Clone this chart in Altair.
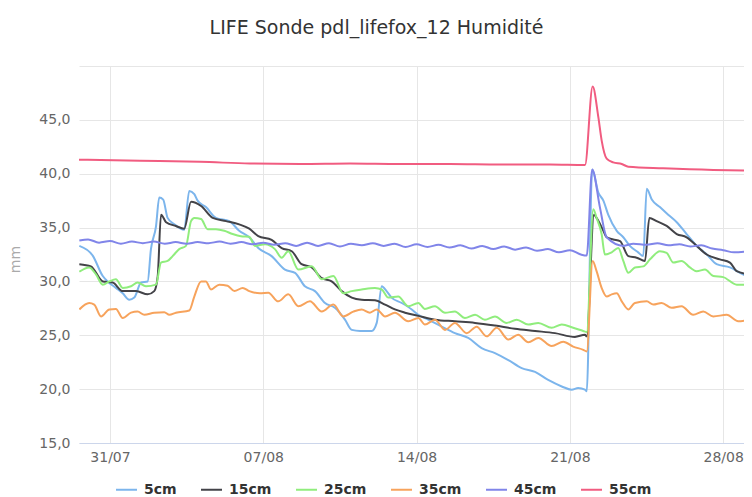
import altair as alt
import pandas as pd

# Series names and Highcharts-style colours
series_names = ["5cm", "15cm", "25cm", "35cm", "45cm", "55cm"]
series_colors = ["#7cb5ec", "#434348", "#90ed7d", "#f7a35c", "#8085e9", "#f15c80"]

# (days since 31/07 00:00, value in mm)
s5 = [(-1.40, 33.3), (-0.79, 32.4), (-0.33, 30.5), (-0.11, 30.0), (0.27, 29.4), (0.58, 28.9), (0.88, 28.3),
      (1.11, 28.5), (1.42, 29.9), (1.72, 30.0), (1.87, 33.0), (2.10, 35.1), (2.25, 37.8), (2.43, 37.6),
      (2.63, 35.9), (2.94, 35.3), (3.39, 34.8), (3.62, 38.4), (3.85, 38.1), (4.00, 37.5), (4.38, 36.9),
      (4.84, 35.9), (5.45, 35.6), (5.90, 34.7), (6.36, 34.1), (6.77, 33.1), (7.38, 32.35), (7.99, 31.1),
      (8.45, 30.8), (8.90, 29.55), (9.36, 29.1), (9.82, 28.0), (10.27, 27.55), (10.73, 26.45), (11.04, 25.5),
      (11.42, 25.4), (11.95, 25.4), (12.18, 26.15), (12.41, 29.55), (12.63, 29.1), (12.86, 28.5), (13.32, 28.0),
      (13.78, 27.4), (14.08, 26.9), (14.53, 26.45), (15.15, 25.8), (15.75, 25.2), (16.36, 24.75), (16.97, 23.8),
      (17.58, 23.35), (18.19, 22.7), (18.80, 21.95), (19.41, 21.6), (20.01, 20.85), (20.63, 20.25),
      (21.08, 19.95), (21.38, 20.1), (21.69, 19.95), (21.77, 19.8), (22.02, 40.4), (22.30, 38.25),
      (22.53, 37.5), (22.75, 36.2), (23.14, 34.7), (23.44, 34.1), (23.74, 33.3), (24.12, 32.7), (24.35, 32.35),
      (24.51, 38.6), (24.74, 37.6), (25.11, 36.9), (25.49, 36.2), (25.88, 35.5), (26.33, 34.4), (26.79, 33.3),
      (27.25, 32.5), (27.70, 31.6), (28.31, 31.3), (28.77, 30.8), (29.22, 30.3)]

s15 = [(-1.40, 31.6), (-0.87, 31.4), (-0.33, 30.0), (0.12, 29.9), (0.58, 29.1), (1.19, 29.1), (1.72, 28.8),
       (2.02, 29.1), (2.18, 30.5), (2.33, 36.2), (2.56, 35.5), (3.01, 35.15), (3.39, 34.9), (3.70, 37.4),
       (4.16, 37.0), (4.69, 35.9), (5.30, 35.6), (5.90, 35.3), (6.36, 34.9), (6.77, 34.2), (7.38, 33.85),
       (7.84, 33.1), (8.30, 32.8), (8.75, 31.6), (9.21, 31.3), (9.67, 30.3), (10.12, 30.0), (10.58, 29.1),
       (11.04, 28.5), (11.49, 28.3), (12.10, 28.25), (12.56, 27.85), (13.01, 27.4), (13.47, 27.1), (14.08, 26.8),
       (14.84, 26.45), (15.75, 26.3), (16.67, 26.15), (17.58, 25.9), (18.49, 25.6), (19.41, 25.4), (20.32, 25.2),
       (21.23, 24.85), (21.69, 25.05), (21.77, 24.9), (22.10, 36.2), (22.22, 35.9), (22.53, 34.7), (22.68, 34.1),
       (22.98, 33.9), (23.29, 33.75), (23.67, 32.35), (24.05, 32.2), (24.43, 31.9), (24.63, 35.9), (24.96, 35.6),
       (25.42, 35.15), (25.88, 34.4), (26.33, 34.1), (26.79, 33.3), (27.25, 32.5), (27.85, 32.05), (28.31, 31.75),
       (28.62, 30.95), (29.22, 30.65)]

s25 = [(-1.40, 30.9), (-0.95, 31.3), (-0.64, 30.65), (-0.33, 29.7), (-0.03, 30.0), (0.27, 30.2), (0.58, 29.4),
       (0.96, 29.55), (1.26, 29.9), (1.64, 29.55), (2.10, 29.7), (2.33, 31.75), (2.63, 31.9), (2.86, 32.35),
       (3.16, 33.0), (3.47, 33.3), (3.70, 35.6), (3.85, 35.9), (4.16, 35.8), (4.46, 34.85), (4.84, 34.85),
       (5.22, 34.7), (5.60, 34.4), (5.98, 34.2), (6.36, 34.15), (6.62, 33.3), (7.08, 33.45), (7.53, 33.0),
       (7.84, 32.2), (8.14, 32.8), (8.60, 31.1), (9.21, 31.4), (9.67, 30.2), (10.20, 30.5), (10.65, 28.9),
       (11.04, 29.1), (11.49, 29.25), (12.10, 29.4), (12.41, 29.25), (12.71, 28.5), (13.16, 28.6), (13.62, 27.7),
       (14.08, 28.0), (14.38, 27.45), (14.84, 27.7), (15.30, 27.1), (15.75, 27.2), (16.21, 26.6), (16.67, 26.9),
       (17.12, 26.45), (17.58, 26.75), (18.11, 26.15), (18.57, 26.45), (19.10, 26.0), (19.56, 26.15),
       (20.17, 25.7), (20.63, 26.0), (21.15, 25.7), (21.61, 25.4), (21.77, 25.3), (22.07, 36.7), (22.22, 35.9),
       (22.45, 34.4), (22.60, 32.5), (22.91, 32.7), (23.21, 33.1), (23.44, 31.9), (23.67, 30.8), (23.97, 31.3),
       (24.35, 31.4), (24.66, 32.05), (25.11, 32.8), (25.42, 32.65), (25.72, 31.75), (26.10, 31.9), (26.48, 31.3),
       (26.79, 30.95), (27.17, 31.1), (27.55, 30.5), (28.00, 30.4), (28.62, 29.7), (29.22, 29.7)]

s35 = [(-1.40, 27.4), (-0.95, 28.0), (-0.72, 27.85), (-0.41, 26.75), (-0.03, 27.4), (0.27, 27.45), (0.58, 26.6),
       (0.96, 27.1), (1.26, 27.2), (1.57, 26.9), (2.02, 27.1), (2.48, 27.15), (2.71, 26.9), (3.01, 27.1),
       (3.62, 27.3), (3.85, 28.6), (4.16, 30.0), (4.38, 30.0), (4.61, 29.25), (4.99, 29.7), (5.37, 29.6),
       (5.68, 29.1), (6.06, 29.4), (6.36, 29.1), (6.85, 28.9), (7.23, 28.95), (7.68, 28.15), (8.14, 28.8),
       (8.60, 27.7), (9.13, 28.15), (9.67, 27.2), (10.20, 27.85), (10.65, 26.75), (11.11, 27.2), (11.49, 27.4),
       (11.87, 27.1), (12.18, 27.4), (12.56, 26.75), (13.01, 27.1), (13.62, 26.3), (14.08, 26.6), (14.38, 26.0),
       (14.84, 26.45), (15.30, 25.5), (15.75, 26.15), (16.29, 25.2), (16.74, 25.8), (17.20, 24.9), (17.66, 25.7),
       (18.19, 24.6), (18.64, 25.05), (19.10, 24.35), (19.56, 24.75), (20.17, 24.0), (20.70, 24.4),
       (21.15, 23.95), (21.61, 23.65), (21.77, 23.5), (22.04, 31.9), (22.22, 30.95), (22.45, 29.4), (22.68, 28.6),
       (22.91, 28.8), (23.14, 28.9), (23.37, 28.15), (23.67, 27.4), (23.97, 28.0), (24.51, 28.15), (24.81, 27.85),
       (25.19, 28.0), (25.65, 27.55), (26.10, 27.7), (26.63, 26.9), (27.09, 27.2), (27.55, 26.75), (28.16, 26.9),
       (28.69, 26.3), (29.22, 26.45)]

s45 = [(-1.40, 33.8), (-1.0, 33.9), (-0.5, 33.6), (0.0, 33.75), (0.5, 33.5), (1.0, 33.7), (1.5, 33.55),
       (2.0, 33.7), (2.5, 33.5), (3.0, 33.65), (3.5, 33.5), (4.0, 33.65), (4.5, 33.55), (5.0, 33.7), (5.5, 33.5),
       (6.0, 33.65), (6.5, 33.45), (7.0, 33.6), (7.5, 33.4), (8.0, 33.55), (8.5, 33.3), (9.0, 33.6), (9.5, 33.3),
       (10.0, 33.55), (10.5, 33.25), (11.0, 33.5), (11.5, 33.35), (12.0, 33.55), (12.5, 33.3), (13.0, 33.5),
       (13.5, 33.2), (14.0, 33.45), (14.5, 33.2), (15.0, 33.4), (15.5, 33.15), (16.0, 33.35), (16.5, 33.05),
       (17.0, 33.3), (17.5, 33.0), (18.0, 33.25), (18.5, 32.95), (19.0, 33.15), (19.5, 32.85), (20.0, 33.0),
       (20.5, 32.7), (21.0, 32.9), (21.5, 32.5), (21.77, 32.4), (22.02, 40.4), (22.37, 36.9), (22.68, 34.1),
       (23.45, 33.3), (23.9, 33.5), (24.5, 33.4), (25.0, 33.55), (25.5, 33.35), (26.0, 33.45), (26.5, 33.25),
       (27.0, 33.35), (27.5, 33.05), (28.0, 32.9), (28.5, 32.7), (29.22, 32.8)]

s55 = [(-1.42, 41.3), (1.37, 41.2), (4.11, 41.1), (6.39, 40.95), (8.68, 40.9), (10.96, 40.95), (13.24, 40.9),
       (15.53, 40.9), (17.81, 40.85), (20.09, 40.85), (21.69, 40.8), (22.04, 48.1), (22.30, 45.25), (22.45, 43.1),
       (22.68, 41.4), (22.98, 41.05), (23.37, 40.9), (23.67, 40.65), (25.26, 40.5), (27.55, 40.35), (29.22, 40.3)]

y_ticks = [15, 20, 25, 30, 35, 40, 45, 50]
base = pd.Timestamp("2022-07-31 00:00")

rows = []
for name, pts in zip(series_names, [s5, s15, s25, s35, s45, s55]):
    for d, v in pts:
        rows.append({"time": base + pd.Timedelta(days=d), "depth": name, "value": v})
df = pd.DataFrame(rows)
df["time"] = df["time"].dt.strftime("%Y-%m-%dT%H:%M:%S")

font = "DejaVu Sans"
week_ticks = [alt.DateTime(year=2022, month=m, date=dd) for m, dd in [(7, 31), (8, 7), (8, 14), (8, 21), (8, 28)]]

chart = alt.Chart(df).mark_line(strokeWidth=2, clip=True, interpolate="monotone").encode(
    x=alt.X("time:T",
            scale=alt.Scale(domain=[alt.DateTime(year=2022, month=7, date=29, hours=14, minutes=2),
                                    alt.DateTime(year=2022, month=8, date=28, hours=22, minutes=50)]),
            axis=alt.Axis(values=week_ticks, format="%d/%m", title=None, grid=True, gridColor="#e6e6e6",
                          ticks=False, domainColor="#ccd6eb", labelFont=font, labelFontSize=14,
                          labelColor="#666666", labelPadding=7, labelFlush=False, labelOverlap=False)),
    y=alt.Y("value:Q",
            scale=alt.Scale(domain=[15, 50], nice=False, zero=False),
            axis=alt.Axis(values=y_ticks, title="mm", grid=True, gridColor="#e6e6e6", ticks=False, domain=False,
                          labelExpr="datum.value == 50 ? '' : replace(format(datum.value, '.1f'), '.', ',')",
                          labelFont=font, labelFontSize=14, labelColor="#666666", labelPadding=9,
                          titleFont=font, titleFontSize=14, titleFontWeight="normal", titleColor="#aaaaaa",
                          titleX=-64, titleY=193, titleAngle=270, titleAlign="center", titleBaseline="middle")),
    color=alt.Color("depth:N", scale=alt.Scale(domain=series_names, range=series_colors),
                    legend=alt.Legend(orient="none", legendX=36, legendY=412, direction="horizontal", title=None,
                                      symbolType="stroke", symbolSize=441, symbolStrokeWidth=2,
                                      labelFont=font, labelFontWeight="bold", labelFontSize=14,
                                      labelColor="#333333", labelOffset=6, columnPadding=20, padding=0)),
).properties(
    width=665, height=377,
    title=alt.TitleParams("LIFE Sonde pdl_lifefox_12 Humidité", font=font, fontSize=19, fontWeight="normal",
                          color="#333333", anchor="middle", dx=-35, offset=13, baseline="alphabetic"),
    padding={"left": 71, "top": 58, "right": 0, "bottom": 54},
    autosize=alt.AutoSizeParams(type="none"),
).configure_view(stroke=None)

chart.save("out.html", embed_options={"renderer": "svg", "actions": False})
